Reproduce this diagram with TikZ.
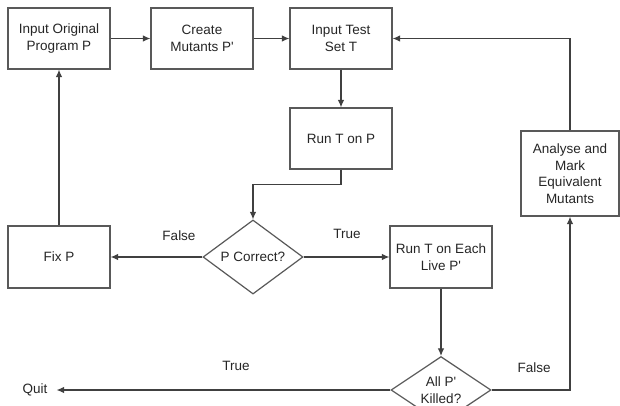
\documentclass[tikz,border=0pt]{standalone}
\usepackage{fontspec}
\setmainfont{Liberation Sans}
\usetikzlibrary{shapes.geometric,arrows.meta}
\begin{document}
\begin{tikzpicture}[x=1pt,y=-1pt,
  font=\fontsize{13.5}{16.5}\selectfont,
  every node/.style={text=black!85},
  procbox/.style={draw=black!65,line width=1.3pt,minimum width=102pt,minimum height=61pt,inner sep=0pt,align=center},
  decbox/.style={draw=black!65,line width=1.2pt,diamond,minimum width=100pt,minimum height=60pt,inner sep=0pt,align=center},
  conn/.style={draw=black!75,line width=1.1pt,-{Latex[length=7.5pt,width=6.5pt]}},
]
\useasboundingbox[fill=white] (0,0) rectangle (620,405);
\node[procbox] (b1) at (59,38.5) {Input Original\\Program P};
\node[procbox] (b2) at (202,38.5) {Create\\Mutants P\textquotesingle};
\node[procbox] (b3) at (341,38.5) {Input Test\\Set T};
\node[procbox] (run) at (341,138.5) {Run T on P};
\node[decbox] (dec1) at (253,257) {P Correct?};
\node[procbox,minimum height=62pt] (fix) at (59,257) {Fix P};
\node[procbox,minimum height=62pt] (each) at (441,257) {Run T on Each\\Live P\textquotesingle};
\node[decbox] (dec2) at (441,390) {All P\textquotesingle\\Killed?};
\node[procbox,minimum width=98pt,minimum height=85pt] (ana) at (570,173.5) {Analyse and\\Mark\\Equivalent\\Mutants};
\node[inner xsep=9pt,inner ysep=0pt,anchor=center] (quit) at (35,390) {Quit};
\node (lf1) at (179,236) {False};
\node (lt1) at (347,234) {True};
\node (lt2) at (236,366) {True};
\node (lf2) at (534,368) {False};

\draw[conn] (b1) -- (b2);
\draw[conn] (b2) -- (b3);
\draw[conn] (b3) -- (run);
\draw[conn] (run.south) -- ++(0,15) -| (dec1.north);
\draw[conn] (dec1.west) -- (fix.east);
\draw[conn] (dec1.east) -- (each.west);
\draw[conn] (fix.north) -- (b1.south);
\draw[conn] (each.south) -- (dec2.north);
\draw[conn] (dec2.west) -- (quit.east);
\draw[conn] (dec2.east) -| (ana.south);
\draw[conn] (ana.north) |- (b3.east);
\end{tikzpicture}
\end{document}
